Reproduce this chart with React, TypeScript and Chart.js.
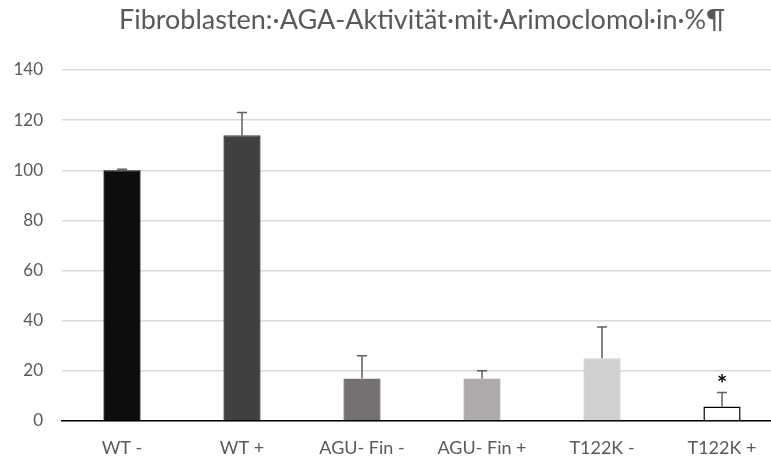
import React, { useEffect, useRef } from "react";
import { Chart, registerables } from "chart.js";

Chart.register(...registerables);

const titleText = "Fibroblasten:·AGA-Aktivität·mit·Arimoclomol·in·%¶";
const categories = ["WT -", "WT +", "AGU- Fin -", "AGU- Fin +", "T122K -", "T122K +"];
const values = [100, 114, 17, 17, 25, 5.8];
const errors = [0.4, 9, 9, 3, 12.5, 5.6];
const significance = ["", "", "", "", "", "*"];
const yTicks = [0, 20, 40, 60, 80, 100, 120, 140];

const barColors = ["#0d0d0d", "#404040", "#767171", "#aeaaaa", "#d0cece", "#ffffff"];
const barBorders = ["#0d0d0d", "#404040", "#767171", "#aeaaaa", "#d0cece", "#000000"];

const FONT = "Lato, 'Open Sans', sans-serif";

const errorBarPlugin = {
  id: "errorBars",
  afterDatasetsDraw(chart: any) {
    const ctx = chart.ctx;
    const ys = chart.scales.y;
    const meta = chart.getDatasetMeta(0);
    ctx.save();
    values.forEach((v, i) => {
      const x = meta.data[i].x;
      const yTop = ys.getPixelForValue(v + errors[i]);
      const yBar = ys.getPixelForValue(v);
      ctx.strokeStyle = "#5f5f5f";
      ctx.lineWidth = 1.5;
      ctx.beginPath();
      ctx.moveTo(x, yBar);
      ctx.lineTo(x, yTop);
      ctx.moveTo(x - 5, yTop);
      ctx.lineTo(x + 5, yTop);
      ctx.stroke();
      if (significance[i]) {
        ctx.fillStyle = "#000";
        ctx.font = "bold 24px " + FONT;
        ctx.textAlign = "center";
        ctx.textBaseline = "middle";
        ctx.fillText(significance[i], x, yTop - 7);
      }
    });
    ctx.restore();
  },
};

export default function App() {
  const ref = useRef<HTMLCanvasElement | null>(null);
  useEffect(() => {
    if (!ref.current) return;
    const chart = new Chart(ref.current, {
      type: "bar",
      data: {
        labels: categories,
        datasets: [
          {
            data: values,
            backgroundColor: barColors,
            borderColor: barBorders,
            borderWidth: 1.5,
            barPercentage: 0.31,
            categoryPercentage: 1,
          },
        ],
      },
      options: {
        animation: false,
        responsive: false,
        maintainAspectRatio: false,
        layout: { padding: { top: 0, right: 8, bottom: 0, left: 0 } },
        plugins: {
          legend: { display: false },
          tooltip: { enabled: false },
          title: {
            display: true,
            text: titleText,
            fullSize: false,
            color: "#595959",
            font: { family: FONT, size: 27, weight: "normal", lineHeight: 1.2 },
            padding: { top: 4, bottom: 33.6 },
          },
        },
        scales: {
          x: {
            grid: { display: false, drawTicks: false },
            border: { display: true, color: "#000", width: 1.5 },
            ticks: { color: "#595959", font: { family: FONT, size: 18 }, padding: 16 },
            afterFit: (s: any) => {
              s.height = 36;
            },
          },
          y: {
            min: 0,
            max: 140,
            afterBuildTicks: (s: any) => {
              s.ticks = yTicks.map((v) => ({ value: v }));
            },
            grid: { color: "#d9d9d9", lineWidth: 1.5, drawTicks: false },
            border: { display: false },
            ticks: { color: "#595959", font: { family: FONT, size: 17 }, padding: 19 },
            afterFit: (s: any) => {
              s.width = 62;
            },
          },
        },
      },
      plugins: [errorBarPlugin],
    });
    return () => chart.destroy();
  }, []);
  return (
    <div style={{ position: "fixed", left: 0, top: 0, width: 790, height: 457, background: "#fff" }}>
      <canvas ref={ref} width={790} height={457} style={{ width: 790, height: 457 }} />
    </div>
  );
}
